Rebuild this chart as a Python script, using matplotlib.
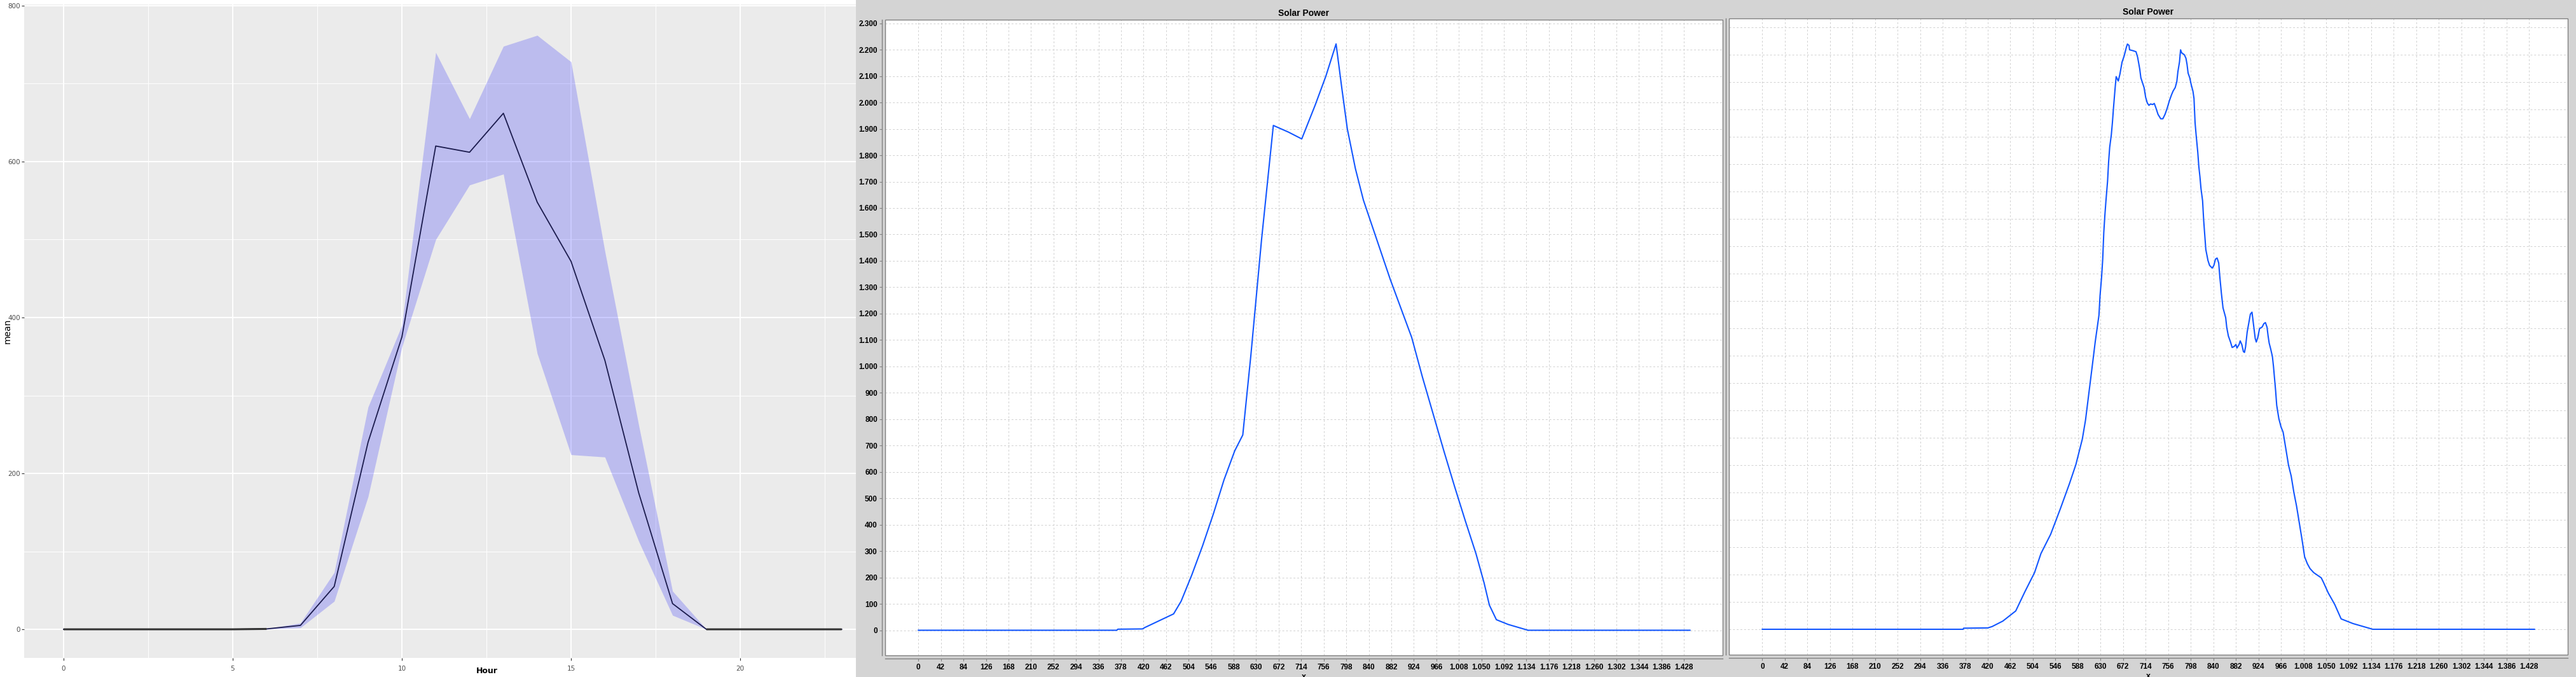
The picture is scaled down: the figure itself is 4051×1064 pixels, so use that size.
import matplotlib
matplotlib.use("Agg")
import matplotlib.pyplot as plt
from matplotlib.patches import Rectangle
from matplotlib.ticker import FuncFormatter
import numpy as np

W, H = 4051, 1064

# left panel: hourly mean with min/max ribbon
hours = list(range(24))
hour_mean = [0, 0, 0, 0, 0, 0, 0.5, 5, 55, 240, 375, 620, 612, 662, 548, 472, 345, 175, 33, 0, 0, 0, 0, 0]
hour_upper = [0, 0, 0, 0, 0, 0, 0.8, 8, 73, 285, 390, 740, 655, 748, 762, 728, 485, 262, 49, 0, 0, 0, 0, 0]
hour_lower = [0, 0, 0, 0, 0, 0, 0.2, 2, 36, 170, 362, 500, 570, 584, 354, 224, 221, 113, 18, 0, 0, 0, 0, 0]

# middle panel: Solar Power (smoothed), minute of day -> W
mid_min = [0, 370, 372, 418, 422, 476, 490, 510, 530, 550, 570, 590, 605, 620, 640, 662,
           690, 715, 740, 760, 779, 790, 800, 815, 830, 845, 860, 880, 900, 920, 940, 960,
           980, 1000, 1020, 1040, 1055, 1065, 1078, 1100, 1137, 1439]
mid_val = [0, 0, 4, 5, 10, 62, 110, 210, 320, 440, 570, 680, 740, 1040, 1480, 1913,
           1888, 1862, 1990, 2100, 2222, 2050, 1900, 1750, 1630, 1540, 1450, 1330, 1220, 1110, 960, 820,
           680, 545, 415, 290, 180, 95, 40, 22, 0, 0]

# right panel: Solar Power (raw)
right_min = [0, 374, 375, 420, 428, 448, 472, 489, 507, 519, 537, 555, 572, 584, 596, 602,
             605, 611, 615, 620, 627, 629, 632, 634, 636, 638, 640, 643, 645, 647, 650, 652,
             654, 657, 659, 663, 666, 670, 674, 678, 680, 683, 684, 690, 696, 699, 703, 705,
             711, 714, 717, 720, 723, 727, 730, 733, 737, 742, 746, 750, 754, 758, 762, 765,
             769, 772, 774, 777, 779, 781, 786, 789, 791, 793, 796, 799, 802, 804, 806, 808,
             811, 813, 815, 817, 820, 822, 824, 826, 830, 833, 838, 841, 844, 847, 850, 852,
             855, 858, 863, 865, 868, 872, 875, 879, 882, 884, 888, 890, 893, 896, 898, 900,
             903, 907, 909, 912, 915, 918, 920, 923, 926, 931, 934, 937, 940, 942, 944, 947,
             950, 952, 954, 956, 958, 962, 966, 970, 975, 980, 985, 990, 995, 1000, 1005, 1010,
             1015, 1020, 1027, 1041, 1045, 1054, 1066, 1078, 1100, 1137, 1438]
right_val = [0, 0, 4, 5, 10, 30, 67, 137, 207, 277, 347, 440, 532, 602, 695, 765,
             812, 908, 970, 1050, 1148, 1219, 1290, 1353, 1451, 1513, 1566, 1637, 1709, 1762, 1807, 1851,
             1904, 1976, 2020, 2004, 2029, 2073, 2096, 2127, 2139, 2134, 2118, 2115, 2111, 2091, 2047, 2016,
             1980, 1944, 1924, 1915, 1920, 1918, 1922, 1906, 1882, 1866, 1866, 1882, 1904, 1931, 1953, 1967,
             1980, 2002, 2038, 2074, 2118, 2107, 2100, 2087, 2065, 2033, 2016, 1989, 1967, 1940, 1851, 1806,
             1744, 1691, 1655, 1611, 1566, 1495, 1442, 1388, 1348, 1330, 1320, 1330, 1353, 1357, 1339, 1290,
             1228, 1175, 1139, 1103, 1072, 1050, 1030, 1034, 1041, 1028, 1041, 1054, 1041, 1015, 1012, 1032,
             1086, 1130, 1152, 1159, 1112, 1063, 1050, 1068, 1099, 1105, 1117, 1121, 1104, 1072, 1046, 1023,
             997, 961, 917, 872, 819, 770, 740, 720, 660, 600, 560, 500, 450, 390, 330, 265,
             240, 222, 207, 188, 172, 133, 91, 38, 21, 0, 0]

x_ticks = list(range(0, 1429, 42))


def px_box(x0, y0, x1, y1):
    return [x0 / W, 1 - y1 / H, (x1 - x0) / W, (y1 - y0) / H]


def dotted_thousands(v, pos=None):
    return f"{int(round(v)):,}".replace(",", ".")


fig = plt.figure(figsize=(W / 100, H / 100), dpi=100)
fig.patch.set_facecolor("white")
fig.patches.append(Rectangle((1346 / W, 0), 1 - 1346 / W, 1, transform=fig.transFigure,
                             facecolor="#d4d4d4", edgecolor="none", zorder=-10))

# ---- ggplot style panel ----
ax = fig.add_axes(px_box(38, 7, 1346, 1034))
ax.set_facecolor("#ebebeb")
ax.fill_between(hours, hour_lower, hour_upper, color="blue", alpha=0.2, lw=0)
ax.plot(hours, hour_mean, color="#1b1b4d", lw=1.3)
flat = np.where(np.array(hour_upper) - np.array(hour_lower) < 1, hour_mean, np.nan)
ax.plot(hours, flat, color="#333333", lw=2.2, solid_capstyle="butt")
ax.set_xlim(-1.165, 23.42)
ax.set_ylim(-36.7, 801.6)
ax.set_xticks([0, 5, 10, 15, 20])
ax.set_xticks([2.5, 7.5, 12.5, 17.5, 22.5], minor=True)
ax.set_yticks([0, 200, 400, 600, 800])
ax.set_yticks([100, 300, 500, 700], minor=True)
ax.grid(which="major", color="white", lw=1.4)
ax.grid(which="minor", color="white", lw=0.7)
ax.set_axisbelow(True)
for s in ax.spines.values():
    s.set_visible(False)
ax.tick_params(which="major", length=2.6, width=0.8, color="#333333",
               labelcolor="#4d4d4d", labelsize=7.5)
ax.tick_params(axis="x", pad=6)
ax.tick_params(axis="y", pad=1.5)
ax.tick_params(which="minor", length=0)
ax.set_xlabel("Hour", fontsize=9, fontweight="bold")
ax.xaxis.set_label_coords((766 - 38) / 1308, -(1048 - 1034) / 1027)
ax.xaxis.label.set_va("top")
ax.set_ylabel("mean", fontsize=10)
ax.yaxis.set_label_coords((12 - 38) / 1308, 0.5)
ax.yaxis.label.set_va("center")


def jfree_panel(box, xs, ys, ylim, ytop, show_ylabels):
    a = fig.add_axes(px_box(*box))
    a.set_facecolor("white")
    a.plot(xs, ys, color="#1256ff", lw=1.5, solid_joinstyle="round")
    a.set_xlim(-62, 1500)
    a.set_ylim(*ylim)
    a.set_xticks(x_ticks)
    a.set_yticks(list(range(0, ytop + 1, 100)))
    a.xaxis.set_major_formatter(FuncFormatter(dotted_thousands))
    a.yaxis.set_major_formatter(FuncFormatter(dotted_thousands))
    a.grid(True, color="#d0d0d0", lw=0.7, linestyle=(0, (3, 3)))
    a.set_axisbelow(True)
    a.spines["top"].set_visible(False)
    a.spines["right"].set_visible(False)
    for side in ("left", "bottom"):
        a.spines[side].set_position(("outward", 3.6))
        a.spines[side].set_color("#808080")
        a.spines[side].set_linewidth(1.0)
    a.add_patch(Rectangle((0, 0), 1, 1, transform=a.transAxes, fill=False,
                          edgecolor="#808080", lw=1.0, clip_on=False, zorder=5))
    a.tick_params(length=2.9, width=0.8, color="#808080", labelsize=8.5)
    a.tick_params(axis="x", pad=3.0)
    a.tick_params(axis="y", pad=2.2, labelleft=show_ylabels)
    if not show_ylabels:
        a.tick_params(axis="y", length=0)
    for lab in a.get_xticklabels() + a.get_yticklabels():
        lab.set_fontweight("bold")
        lab.set_family("Liberation Sans")
    h = box[3] - box[1]
    a.text(0.5, 1 + 10 / h, "Solar Power", transform=a.transAxes, ha="center", va="center",
           fontsize=10, fontweight="bold", family="Liberation Sans")
    a.set_xlabel("x", fontsize=9, fontweight="bold", family="Liberation Sans")
    a.xaxis.set_label_coords(0.5, -28 / h)
    a.xaxis.label.set_va("top")
    return a


jfree_panel((1392, 31, 2709, 1030), mid_min, mid_val, (-95.2, 2313.7), 2300, True)
jfree_panel((2719, 29, 4038, 1029), right_min, right_val, (-93, 2232.6), 2200, False)

fig.savefig("out.png", dpi=100)
